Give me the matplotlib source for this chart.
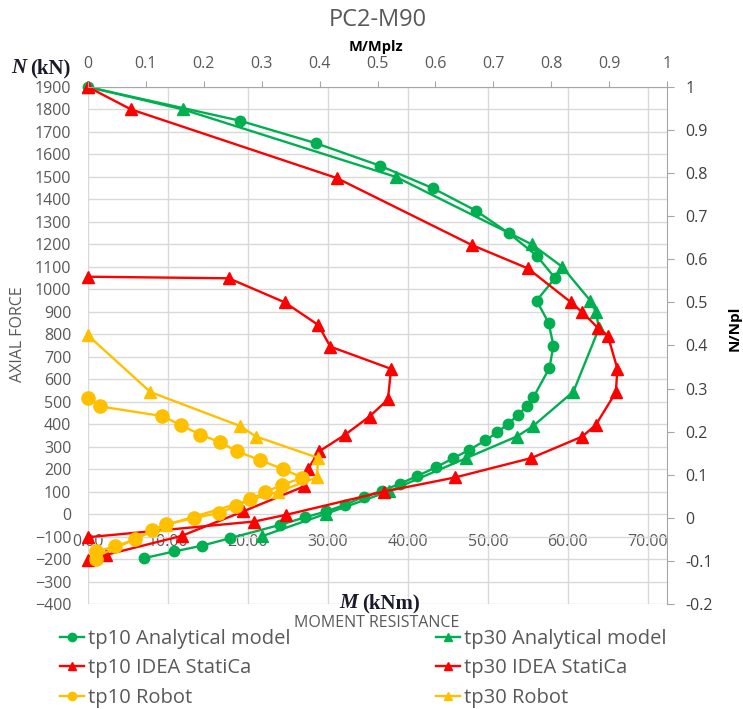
import matplotlib.pyplot as plt
from matplotlib.lines import Line2D

plt.rcParams["font.family"] = ["Open Sans", "DejaVu Sans"]

# M (kNm) and N (kN)
m_tp10_analytical = [0, 19.0, 28.5, 36.5, 43.1, 48.5, 52.6, 56.1, 58.4, 56.1, 57.6, 58.2, 57.7,
                     55.7, 54.9, 53.8, 52.5, 51.2, 49.7, 47.7, 45.7, 43.5, 41.1, 39.0, 36.8,
                     34.5, 32.1, 29.8, 27.1, 24.0, 17.8, 14.2, 10.8, 7.0]
n_tp10_analytical = [1900, 1750, 1650, 1550, 1450, 1350, 1250, 1150, 1050, 950, 850, 750, 650,
                     520, 483, 441, 401, 364, 328, 286, 249, 208, 168, 135, 104,
                     77, 41, 12, -15, -48, -107, -141, -166, -196]

m_tp30_analytical = [0, 11.9, 38.5, 55.5, 59.3, 62.8, 63.5, 63.9, 60.7, 55.6, 53.6, 47.3, 37.6, 29.8, 21.7]
n_tp30_analytical = [1900, 1800, 1500, 1200, 1100, 950, 900, 827, 545, 390, 345, 249, 101, 2, -99]

m_tp10_idea = [0, 17.6, 24.6, 28.8, 30.3, 37.9, 37.5, 35.2, 32.1, 28.9, 27.5, 27.0, 19.4, 11.7, 2.3, 0]
n_tp10_idea = [1056, 1049, 942, 841, 745, 646, 510, 434, 352, 279, 201, 123, 12, -97, -181, -203]

m_tp30_idea = [0, 5.4, 31.1, 48.0, 55.0, 60.4, 61.8, 63.8, 65.0, 66.2, 66.0, 63.5, 61.8, 55.4,
               45.9, 37.0, 24.8, 20.8, 0]
n_tp30_idea = [1900, 1800, 1495, 1197, 1093, 942, 898, 827, 794, 646, 542, 397, 345, 249,
               163, 100, -3, -33, -103]

m_tp10_robot = [0, 1.5, 9.3, 11.6, 14.0, 16.5, 18.6, 21.5, 24.4, 26.8, 24.3, 22.1, 20.3, 18.5,
                16.4, 13.2, 9.8, 8.0, 5.9, 3.4, 1.0, 1.0]
n_tp10_robot = [517, 479, 436, 396, 354, 320, 280, 240, 200, 162, 130, 97, 66, 35,
                5, -18, -45, -72, -112, -144, -166, -198]

m_tp30_robot = [0, 7.8, 19.0, 21.0, 28.8, 28.6, 23.8, 9.8, 1.0]
n_tp30_robot = [795, 543, 392, 345, 250, 163, 100, -48, -190]

x_ticks = [0, 10, 20, 30, 40, 50, 60, 70]
top_ticks = [0, 0.1, 0.2, 0.3, 0.4, 0.5, 0.6, 0.7, 0.8, 0.9, 1]
right_ticks = [-0.2, -0.1, 0, 0.1, 0.2, 0.3, 0.4, 0.5, 0.6, 0.7, 0.8, 0.9, 1]

GREEN = "#00b050"
RED = "#ff0000"
YELLOW = "#ffc000"
GREY = "#595959"

W, H = 743, 709
fig = plt.figure(figsize=(W / 100, H / 100), dpi=100)
ax = fig.add_axes([88 / W, 1 - 604 / H, (667 - 88) / W, (604 - 87) / H])

series = [
    (m_tp10_analytical, n_tp10_analytical, GREEN, "o", 7.5, "tp10 Analytical model"),
    (m_tp30_analytical, n_tp30_analytical, GREEN, "^", 8, "tp30 Analytical model"),
    (m_tp10_idea, n_tp10_idea, RED, "^", 8.5, "tp10 IDEA StatiCa"),
    (m_tp30_idea, n_tp30_idea, RED, "^", 8.5, "tp30 IDEA StatiCa"),
    (m_tp10_robot, n_tp10_robot, YELLOW, "o", 9.5, "tp10 Robot"),
    (m_tp30_robot, n_tp30_robot, YELLOW, "^", 8.5, "tp30 Robot"),
]
handles = {}
for m, n, col, mk, ms, lab in series:
    ax.plot(m, n, color=col, lw=1.7, marker=mk, ms=ms, mec=col, mfc=col, clip_on=False)
    handles[lab] = Line2D([], [], color=col, lw=1.7, marker=mk, ms=6)

ax.set_xlim(0, 72.4)
ax.set_ylim(-400, 1900)
ax.set_xticks(x_ticks)
ax.set_xticklabels([f"{v:.2f}" for v in x_ticks])
ax.set_yticks(range(-400, 2000, 100))
ax.grid(color="#d9d9d9", lw=1)
ax.set_axisbelow(True)
for s in ["left", "top", "right"]:
    ax.spines[s].set_visible(False)
ax.spines["bottom"].set_position(("data", 0))
ax.spines["bottom"].set_visible(False)
ax.tick_params(axis="x", length=0, pad=14, labelsize=11.5, labelcolor=GREY)
ax.tick_params(axis="y", length=0, pad=12, labelsize=11.5, labelcolor=GREY)

# top axis: M/Mplz
axt = ax.twiny()
axt.set_xlim(0, 1)
axt.set_xticks(top_ticks)
axt.set_xticklabels([f"{v:g}" for v in top_ticks])
for s in ["left", "bottom", "right"]:
    axt.spines[s].set_visible(False)
axt.spines["top"].set_color("#a6a6a6")
axt.tick_params(axis="x", direction="out", length=4, color="#a6a6a6", pad=7,
                labelsize=11.5, labelcolor=GREY)

# right axis: N/Npl
axr = ax.twinx()
axr.set_ylim(-0.2, 1)
axr.set_yticks(right_ticks)
axr.set_yticklabels([f"{v:g}" for v in right_ticks])
for s in ["left", "bottom", "top"]:
    axr.spines[s].set_visible(False)
axr.spines["right"].set_color("#a6a6a6")
axr.tick_params(axis="y", direction="out", length=5, color="#a6a6a6", pad=8,
                labelsize=11.5, labelcolor="#404040")

fig.text(378 / W, 1 - 20 / H, "PC2-M90", ha="center", va="center", fontsize=17, color=GREY)
fig.text(376 / W, 1 - 47 / H, "M/Mplz", ha="center", va="center", fontsize=10.5, fontweight="bold")
fig.text(26 / W, 1 - 68 / H, "N", ha="right", va="center", fontsize=15, fontweight="bold",
         fontstyle="italic", family="Liberation Serif", color="#1a1a2a")
fig.text(30 / W, 1 - 68 / H, "(kN)", ha="left", va="center", fontsize=15, fontweight="bold",
         family="Liberation Serif", color="#1a1a2a")
fig.text(358 / W, 1 - 603 / H, "M", ha="right", va="center", fontsize=15, fontweight="bold",
         fontstyle="italic", family="Liberation Serif", color="#1a1a2a")
fig.text(362 / W, 1 - 603 / H, "(kNm)", ha="left", va="center", fontsize=15, fontweight="bold",
         family="Liberation Serif", color="#1a1a2a")
fig.text(377 / W, 1 - 623 / H, "MOMENT RESISTANCE", ha="center", va="center", fontsize=11.5, color=GREY)
fig.text(18 / W, 1 - 334 / H, "AXIAL FORCE", ha="center", va="center", rotation=90, fontsize=11.5, color=GREY)
fig.text(735 / W, 1 - 328 / H, "N/Npl", ha="center", va="center", rotation=90, fontsize=11, fontweight="bold")

order = ["tp10 Analytical model", "tp10 IDEA StatiCa", "tp10 Robot",
         "tp30 Analytical model", "tp30 IDEA StatiCa", "tp30 Robot"]
fig.legend([handles[k] for k in order], order, ncol=2, loc="upper left",
           bbox_to_anchor=(60 / W, 1 - 629 / H), frameon=False, fontsize=14.5,
           labelcolor=GREY, handlelength=1.2, handletextpad=0.2, columnspacing=7.2,
           labelspacing=0.47, borderaxespad=0, borderpad=0)

fig.savefig("out.png", dpi=100)
